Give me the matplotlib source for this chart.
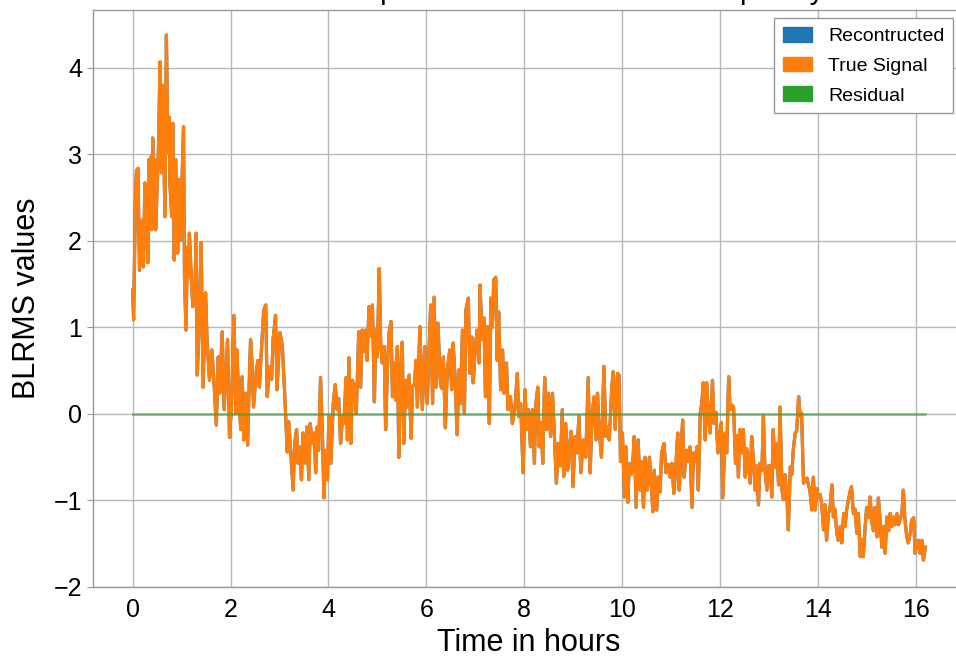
import numpy as np
import matplotlib
matplotlib.use('Agg')
import matplotlib.pyplot as plt
from matplotlib.patches import Patch

# time axis (hours) and BLRMS values
hours = [
    0.00, 0.02, 0.06, 0.08, 0.09, 0.11, 0.14, 0.16, 0.18, 0.20,
    0.22, 0.25, 0.27, 0.29, 0.31, 0.33, 0.35, 0.37, 0.39, 0.41,
    0.43, 0.45, 0.47, 0.50, 0.53, 0.56, 0.59, 0.61, 0.64, 0.66,
    0.69, 0.72, 0.75, 0.76, 0.80, 0.82, 0.85, 0.88, 0.92, 0.95,
    0.98, 1.01, 1.04, 1.06, 1.09, 1.12, 1.14, 1.16, 1.20, 1.23,
    1.27, 1.30, 1.32, 1.36, 1.40, 1.44, 1.49, 1.52, 1.57, 1.62,
    1.66, 1.71, 1.75, 1.78, 1.83, 1.87, 1.94, 1.98, 2.02, 2.07,
    2.11, 2.13, 2.17, 2.21, 2.24, 2.27, 2.31, 2.35, 2.38, 2.41,
    2.44, 2.47, 2.53, 2.56, 2.59, 2.63, 2.68, 2.72, 2.75, 2.80,
    2.84, 2.87, 2.92, 2.95, 3.01, 3.06, 3.11, 3.16, 3.19, 3.23,
    3.28, 3.31, 3.35, 3.38, 3.41, 3.45, 3.48, 3.53, 3.56, 3.60,
    3.63, 3.67, 3.71, 3.74, 3.77, 3.80, 3.84, 3.88, 3.91, 3.95,
    3.98, 4.01, 4.05, 4.10, 4.14, 4.18, 4.21, 4.25, 4.29, 4.32,
    4.36, 4.39, 4.42, 4.46, 4.49, 4.53, 4.57, 4.62, 4.66, 4.69,
    4.72, 4.76, 4.79, 4.83, 4.87, 4.90, 4.94, 4.97, 5.00, 5.04,
    5.07, 5.10, 5.14, 5.17, 5.21, 5.24, 5.28, 5.31, 5.34, 5.38,
    5.41, 5.44, 5.47, 5.51, 5.54, 5.58, 5.61, 5.65, 5.69, 5.72,
    5.76, 5.79, 5.82, 5.87, 5.92, 5.97, 6.02, 6.09, 6.13, 6.16,
    6.20, 6.24, 6.28, 6.31, 6.35, 6.39, 6.43, 6.48, 6.52, 6.55,
    6.59, 6.63, 6.67, 6.70, 6.74, 6.78, 6.81, 6.86, 6.89, 6.93,
    6.96, 7.00, 7.04, 7.08, 7.10, 7.14, 7.18, 7.21, 7.25, 7.29,
    7.32, 7.35, 7.38, 7.42, 7.45, 7.48, 7.52, 7.56, 7.59, 7.64,
    7.67, 7.72, 7.76, 7.81, 7.86, 7.89, 7.93, 7.98, 8.02, 8.05,
    8.09, 8.13, 8.17, 8.21, 8.24, 8.28, 8.31, 8.35, 8.38, 8.42,
    8.46, 8.50, 8.54, 8.58, 8.62, 8.66, 8.70, 8.74, 8.78, 8.81,
    8.85, 8.89, 8.92, 8.96, 9.00, 9.04, 9.08, 9.12, 9.16, 9.21,
    9.26, 9.31, 9.35, 9.39, 9.43, 9.47, 9.50, 9.53, 9.58, 9.63,
    9.67, 9.70, 9.74, 9.79, 9.82, 9.86, 9.91, 9.94, 9.97, 10.01,
    10.05, 10.08, 10.12, 10.15, 10.19, 10.22, 10.25, 10.29, 10.33, 10.37,
    10.40, 10.44, 10.47, 10.52, 10.56, 10.60, 10.63, 10.66, 10.71, 10.74,
    10.78, 10.81, 10.86, 10.90, 10.94, 10.98, 11.02, 11.06, 11.10, 11.14,
    11.17, 11.21, 11.24, 11.27, 11.32, 11.35, 11.39, 11.43, 11.46, 11.50,
    11.53, 11.56, 11.60, 11.63, 11.66, 11.70, 11.73, 11.77, 11.80, 11.85,
    11.88, 11.92, 11.96, 11.99, 12.03, 12.06, 12.11, 12.14, 12.18, 12.21,
    12.25, 12.28, 12.32, 12.35, 12.38, 12.41, 12.45, 12.48, 12.52, 12.55,
    12.58, 12.62, 12.65, 12.69, 12.72, 12.75, 12.79, 12.82, 12.86, 12.89,
    12.92, 12.96, 12.99, 13.03, 13.06, 13.09, 13.13, 13.16, 13.20, 13.23,
    13.27, 13.30, 13.33, 13.37, 13.40, 13.44, 13.47, 13.50, 13.54, 13.57,
    13.61, 13.64, 13.67, 13.71, 13.74, 13.78, 13.81, 13.84, 13.88, 13.91,
    13.95, 13.98, 14.01, 14.05, 14.08, 14.12, 14.15, 14.18, 14.22, 14.25,
    14.29, 14.32, 14.35, 14.39, 14.42, 14.46, 14.49, 14.53, 14.56, 14.59,
    14.63, 14.66, 14.69, 14.73, 14.76, 14.80, 14.83, 14.87, 14.90, 14.93,
    14.97, 15.00, 15.04, 15.07, 15.11, 15.14, 15.17, 15.21, 15.24, 15.28,
    15.31, 15.35, 15.38, 15.41, 15.45, 15.48, 15.51, 15.55, 15.58, 15.62,
    15.65, 15.68, 15.72, 15.75, 15.78, 15.82, 15.85, 15.89, 15.92, 15.96,
    15.99, 16.03, 16.06, 16.09, 16.13, 16.16, 16.20,
]

true_signal = [
    1.43, 1.09, 2.60, 2.82, 2.44, 2.84, 1.66, 2.24, 2.01, 2.24,
    1.70, 2.67, 1.93, 2.59, 1.75, 2.94, 2.24, 2.97, 2.13, 3.19,
    2.24, 2.94, 2.13, 2.60, 3.13, 4.07, 2.79, 3.80, 2.94, 2.28,
    4.38, 3.02, 3.43, 2.67, 2.28, 3.36, 1.78, 2.94, 1.86, 2.71,
    2.01, 2.71, 3.32, 1.58, 0.97, 1.93, 1.58, 2.09, 1.55, 1.24,
    1.40, 2.09, 0.45, 1.01, 1.98, 0.31, 1.40, 0.86, 0.39, 0.74,
    0.39, -0.13, 0.66, 0.24, 0.95, 0.05, 0.86, -0.27, 0.08, 1.14,
    0.01, 0.74, 0.16, -0.18, 0.43, -0.30, 0.24, -0.36, 0.31, 0.86,
    0.59, 0.08, 0.51, 0.62, 0.31, 0.72, 1.20, 1.26, 0.20, 0.55,
    0.40, 0.86, 1.14, 0.28, 0.94, 0.78, 0.20, -0.44, -0.09, -0.45,
    -0.88, -0.34, -0.18, -0.57, -0.38, -0.76, -0.22, -0.57, -0.15, -0.76,
    -0.11, -0.34, -0.22, -0.68, -0.15, -0.42, 0.42, -0.26, -0.97, -0.42,
    -0.76, -0.03, -0.57, 0.12, 0.34, 0.05, 0.18, -0.34, -0.03, -0.11,
    0.42, -0.30, 0.65, -0.34, 0.39, 0.31, 0.01, 0.95, 0.31, 0.97,
    0.72, 0.97, 0.62, 1.24, 0.90, 1.26, 0.14, 0.97, 0.66, 1.68,
    0.82, 0.59, 0.78, -0.18, 0.59, 0.94, 1.07, 0.20, 0.59, 0.16,
    0.78, -0.50, 0.43, 0.83, -0.34, 0.39, 0.08, 0.45, -0.28, 0.31,
    0.35, 0.62, 0.08, 1.01, 0.05, 0.78, 0.12, 1.26, 0.12, 1.35,
    0.31, 1.05, 0.43, 0.30, 0.66, -0.16, 0.51, 0.74, 0.28, 0.82,
    0.40, -0.24, 0.51, 0.12, 0.97, 0.01, 1.20, 1.34, 0.47, 0.89,
    0.36, 0.75, 0.97, 0.59, 1.49, 0.86, 1.11, 0.20, 1.01, -0.11,
    1.34, 1.00, 1.55, 1.58, 0.62, 1.18, 0.28, 0.74, 0.24, 0.59,
    0.05, 0.20, -0.11, 0.05, 0.47, -0.03, 0.12, -0.68, 0.28, -0.18,
    0.05, -0.38, 0.05, -0.57, 0.12, 0.31, -0.38, -0.10, -0.57, 0.42,
    -0.18, 0.24, -0.26, 0.24, -0.26, -0.80, -0.34, -0.60, 0.05, -0.72,
    -0.11, -0.65, -0.42, -0.20, -0.84, -0.26, -0.45, -0.03, -0.68, -0.30,
    -0.50, 0.42, -0.68, 0.01, 0.20, -0.30, 0.24, -0.15, -0.50, 0.55,
    -0.26, -0.15, -0.30, 0.28, 0.49, -0.18, 0.47, 0.45, -0.55, -0.22,
    -0.96, -0.38, -1.02, -0.57, -0.70, -0.57, -0.26, -1.08, -0.30, -0.88,
    -0.55, -1.08, -0.50, -0.88, -0.50, -0.80, -1.13, -0.65, -1.11, -0.73,
    -0.90, -0.45, -0.34, -0.68, -0.58, -0.73, -0.57, -0.92, -0.60, -0.22,
    -0.88, -0.38, -0.07, -0.73, -0.42, -0.55, -0.38, -1.08, -0.45, -0.55,
    -0.38, -0.88, 0.01, 0.12, 0.36, -0.30, 0.36, -0.05, -0.22, 0.39,
    -0.11, 0.02, -0.45, -0.30, -0.10, -0.97, -0.22, -0.45, 0.43, 0.05,
    0.10, 0.08, -0.57, -0.25, -0.73, -0.18, -0.45, -0.18, -0.73, -0.40,
    -0.57, -0.80, -0.26, -0.55, -0.88, -0.60, -1.05, -0.57, -0.65, -0.03,
    -0.62, -0.88, -0.60, -0.60, -0.96, -0.18, -0.62, -0.34, -0.82, 0.08,
    -0.88, -0.99, -0.70, -0.95, -1.34, -0.61, -0.70, -0.42, -0.22, -0.20,
    0.20, -0.03, 0.01, -0.80, -0.77, -0.74, -0.82, -0.88, -1.11, -0.73,
    -1.11, -0.86, -0.96, -0.93, -1.03, -1.34, -1.05, -1.46, -1.15, -1.10,
    -0.82, -1.19, -1.10, -1.38, -1.46, -1.30, -1.49, -1.15, -1.30, -1.11,
    -0.99, -0.90, -0.84, -1.15, -1.10, -1.38, -1.15, -1.65, -1.45, -1.65,
    -1.30, -1.08, -1.20, -0.96, -1.26, -1.35, -1.08, -1.42, -0.97, -1.26,
    -1.54, -1.30, -1.61, -1.19, -1.35, -1.15, -1.30, -1.19, -1.28, -1.15,
    -1.28, -1.23, -1.15, -0.88, -1.20, -1.42, -1.49, -1.38, -1.23, -1.20,
    -1.61, -1.50, -1.46, -1.61, -1.46, -1.69, -1.54,
]

# the reconstruction sits right on top of the true signal
reconstructed = list(true_signal)

legend_labels = ['Recontructed', 'True Signal', 'Residual']
x_ticks = [0, 2, 4, 6, 8, 10, 12, 14, 16]
y_ticks = [-2, -1, 0, 1, 2, 3, 4]
title = 'Data Recontructed and predicted BLRMS in the frequency band of ch_'


def main():
    plt.rcParams['font.family'] = ['Liberation Sans', 'DejaVu Sans']

    t = np.array(hours)
    sig = np.array(true_signal)
    rec = np.array(reconstructed)
    resid = rec - sig

    fig = plt.figure(figsize=(9.56, 6.6), dpi=100)
    ax = fig.add_axes([93 / 956, 73 / 660, (965 - 93) / 956, (650 - 73) / 660])

    ax.plot(t, rec, color='#1f77b4', lw=2.3, zorder=2)
    ax.plot(t, sig, color='#ff7f0e', lw=2.3, zorder=3)
    ax.plot(t, resid, color='#2ca02c', lw=2.0, alpha=0.55, zorder=4)

    ax.set_xlim(-0.81, 17.01)
    ax.set_ylim(-2.0, 4.67)
    ax.set_xticks(x_ticks)
    ax.set_yticks(y_ticks)
    ax.grid(True, color='#b8b8b8', lw=1.0)
    ax.set_axisbelow(True)
    for s in ax.spines.values():
        s.set_color('#999999')
        s.set_linewidth(1.0)
    ax.tick_params(axis='y', length=4, color='#999999', labelsize=18, pad=4)
    ax.tick_params(axis='x', length=0, labelsize=18, pad=8)

    ax.set_xlabel('Time in hours', fontsize=22, labelpad=4)
    ax.set_ylabel('BLRMS values', fontsize=22, labelpad=8)
    # title sits mostly above the top edge of the canvas, as in the original
    ax.set_title(title, fontsize=21, pad=8)

    colors = ['#1f77b4', '#ff7f0e', '#2ca02c']
    handles = [Patch(facecolor=c, edgecolor=c) for c in colors]
    leg = ax.legend(handles, legend_labels, loc='upper right',
                    bbox_to_anchor=(953 / 956, 1 - 18 / 660),
                    bbox_transform=fig.transFigure, borderaxespad=0,
                    fontsize=14, fancybox=False, framealpha=1,
                    handlelength=1.5, handleheight=0.8, labelspacing=0.6,
                    borderpad=0.45, handletextpad=0.8)
    leg.get_frame().set_edgecolor('#999999')

    fig.savefig('out.png', dpi=100)


if __name__ == '__main__':
    main()
